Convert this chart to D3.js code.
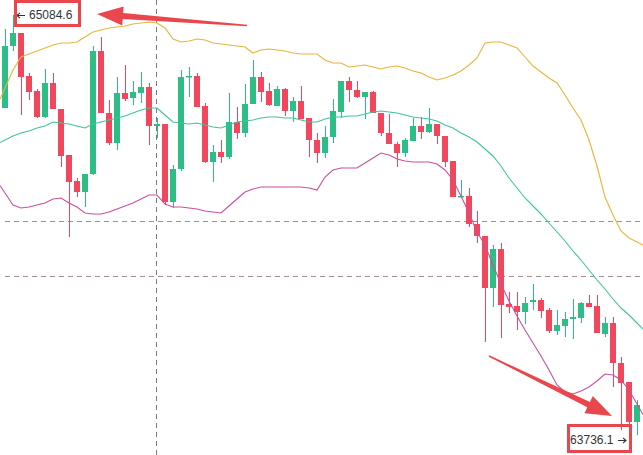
<!DOCTYPE html>
<html><head><meta charset="utf-8">
<script src="https://cdn.jsdelivr.net/npm/d3@7"></script>
<style>html,body{margin:0;padding:0;background:#fff;overflow:hidden}svg{display:block}</style>
</head><body>
<svg id="chart" width="643" height="455"></svg>
<script>
const openP = [64788.1,64985.8,65027.2,64890.1,64842.3,64759.4,64867.8,64784.9,64638.3,64555.4,
64520.3,64577.7,64969.8,64772.2,64676.5,64835.9,64820.0,64835.9,64855.0,64730.7,
64737.1,64488.4,64593.6,64886.9,64890.1,64794.5,64615.9,64647.8,64631.9,64743.5,
64708.4,64800.8,64886.9,64842.3,64794.5,64848.7,64778.5,64810.4,64756.2,64686.1,
64644.6,64695.6,64775.3,64874.2,64845.5,64823.2,64839.1,64772.2,64708.4,64673.3,
64644.6,64682.9,64730.7,64711.6,64737.1,64698.8,64619.1,64504.4,64507.6,64418.3,
64380.0,64214.3,64338.6,64163.2,64156.9,64137.7,64169.6,64176.0,64144.1,64077.2,
64093.1,64115.4,64118.6,64166.4,64156.9,64067.6,64102.7,63975.2,63914.6,63787.1];
const highP = [65040.0,65084.6,65027.2,64899.7,64848.7,64912.4,64899.7,64784.9,64638.3,64564.9,
64577.7,64985.8,65014.4,64813.6,64886.9,64925.2,64874.2,64902.9,64867.8,64756.2,
64737.1,64606.4,64909.2,64918.8,64899.7,64804.0,64670.1,64686.1,64835.9,64791.3,
64864.6,64941.1,64902.9,64867.8,64858.2,64851.9,64823.2,64858.2,64756.2,64708.4,
64730.7,64816.8,64874.2,64886.9,64874.2,64839.1,64842.3,64772.2,64769.0,64679.7,
64692.5,64756.2,64759.4,64788.1,64737.1,64698.8,64619.1,64558.6,64533.1,64459.7,
64380.0,64351.3,64357.7,64201.5,64201.5,64185.6,64227.0,64182.4,64150.5,64144.1,
64137.7,64179.2,64169.6,64191.9,64191.9,64121.8,64121.8,63994.3,63914.6,63857.2];
const lowP = [64788.1,64969.8,64765.8,64813.6,64756.2,64756.2,64784.9,64600.0,64376.8,64504.4,
64472.5,64574.5,64772.2,64670.1,64654.2,64810.4,64797.7,64804.0,64670.1,64692.5,
64478.9,64469.3,64587.3,64823.2,64791.3,64612.8,64552.2,64612.8,64625.5,64689.3,
64695.6,64800.8,64807.2,64794.5,64794.5,64762.6,64743.5,64753.0,64631.9,64612.8,
64628.7,64676.5,64756.2,64807.2,64820.0,64753.0,64772.2,64698.8,64673.3,64600.0,
64631.9,64682.9,64689.3,64708.4,64673.3,64600.0,64504.4,64504.4,64408.7,64357.7,
64042.1,64153.7,64054.9,64134.6,64080.4,64099.5,64144.1,64118.6,64070.8,64064.4,
64058.0,64051.7,64102.7,64153.7,64070.8,64058.0,63898.6,63761.6,63736.1,63745.0];
const closeP = [64985.8,65027.2,64886.9,64839.1,64759.4,64867.8,64784.9,64635.1,64552.2,64520.3,
64577.7,64969.8,64772.2,64676.5,64835.9,64816.8,64839.1,64855.0,64730.7,64737.1,
64488.4,64593.6,64886.9,64890.1,64791.3,64615.9,64647.8,64631.9,64743.5,64708.4,
64800.8,64886.9,64839.1,64797.7,64848.7,64778.5,64810.4,64753.0,64686.1,64644.6,
64695.6,64778.5,64874.2,64845.5,64823.2,64839.1,64772.2,64708.4,64673.3,64644.6,
64686.1,64730.7,64711.6,64737.1,64698.8,64615.9,64504.4,64507.6,64418.3,64380.0,
64214.3,64338.6,64160.1,64153.7,64137.7,64166.4,64176.0,64140.9,64077.2,64096.3,
64115.4,64121.8,64166.4,64153.7,64070.8,64102.7,63975.2,63911.4,63787.1,63841.3];
const bollUpper = [64851.9,64909.2,64950.7,64960.2,64969.8,64979.4,64988.9,64995.3,64995.3,64998.5,
65014.4,65030.4,65036.8,65043.1,65046.3,65049.5,65055.9,65059.1,65062.3,65059.1,
65043.1,65008.1,64998.5,65001.7,65008.1,65004.9,64995.3,64992.1,64988.9,64985.8,
64982.6,64963.4,64973.0,64976.2,64973.0,64969.8,64963.4,64960.2,64960.2,64960.2,
64941.1,64931.6,64931.6,64918.8,64922.0,64925.2,64918.8,64912.4,64918.8,64922.0,
64915.6,64906.1,64899.7,64886.9,64877.4,64883.7,64893.3,64906.1,64925.2,64947.5,
64995.3,64998.5,64998.5,64988.9,64979.4,64950.7,64922.0,64902.9,64883.7,64867.8,
64829.5,64788.1,64749.8,64686.1,64603.2,64504.4,64447.0,64396.0,64373.7,64360.9];
const bollMid = [64686.1,64698.8,64708.4,64714.8,64724.3,64730.7,64743.5,64740.3,64737.1,64730.7,
64724.3,64737.1,64743.5,64749.8,64756.2,64762.6,64772.2,64781.7,64788.1,64788.1,
64765.8,64743.5,64740.3,64737.1,64740.3,64733.9,64727.5,64724.3,64733.9,64743.5,
64746.7,64749.8,64756.2,64759.4,64759.4,64756.2,64756.2,64749.8,64743.5,64743.5,
64753.0,64759.4,64759.4,64762.6,64762.6,64769.0,64775.3,64778.5,64775.3,64772.2,
64765.8,64759.4,64756.2,64753.0,64746.7,64733.9,64724.3,64708.4,64695.6,64679.7,
64657.4,64635.1,64603.2,64564.9,64533.1,64501.2,64475.7,64450.2,64421.5,64392.8,
64364.1,64332.2,64303.5,64271.6,64239.8,64211.1,64179.2,64150.5,64128.2,64102.7];
const bollLower = [64517.1,64478.9,64469.3,64472.5,64478.9,64485.2,64498.0,64501.2,64485.2,64472.5,
64453.4,64450.2,64450.2,64456.5,64466.1,64475.7,64485.2,64498.0,64510.7,64510.7,
64482.0,64472.5,64472.5,64469.3,64466.1,64459.7,64456.5,64453.4,64475.7,64498.0,
64520.3,64529.9,64536.2,64536.2,64536.2,64536.2,64536.2,64536.2,64533.1,64526.7,
64568.1,64590.4,64596.8,64596.8,64596.8,64612.8,64628.7,64644.6,64638.3,64625.5,
64619.1,64615.9,64615.9,64615.9,64609.6,64590.4,64558.6,64507.6,64453.4,64392.8,
64351.3,64287.6,64227.0,64172.8,64125.0,64080.4,64038.9,63997.5,63952.8,63905.0,
63882.7,63876.3,63885.9,63898.6,63917.8,63940.1,63936.9,63921.0,63889.1,63844.4];
const priceLines = [64427.9, 64252.5];
const crossIndex = 19;
const highLabel = "65084.6";
const lowLabel = "63736.1";

const W = 643, H = 455;
const UP = "#2ebd85", DOWN = "#f0475c", ANN = "#e9474d";
const svg = d3.select("#chart");
const idx = d3.range(openP.length);
const x = d3.scaleBand().domain(idx).range([1, 641]).paddingInner(0.25).paddingOuter(0.125);
const bw = x.bandwidth();
const cx = i => x(i) + bw / 2;
const y = d3.scaleLinear().domain([63736.1, 65084.6]).range([438, 15]);

// reference price lines
svg.append("g").selectAll("line").data(priceLines).join("line")
  .attr("x1", 5).attr("x2", W).attr("y1", d => Math.round(y(d)) + 0.5).attr("y2", d => Math.round(y(d)) + 0.5)
  .attr("stroke", "#a88c8c").attr("stroke-width", 1).attr("stroke-dasharray", "5,4");
// crosshair
svg.append("line").attr("x1", Math.floor(cx(crossIndex)) - 0.5).attr("x2", Math.floor(cx(crossIndex)) - 0.5)
  .attr("y1", 0).attr("y2", H).attr("stroke", "#7a7a7a").attr("stroke-width", 1).attr("stroke-dasharray", "5,4");

// candles
const g = svg.append("g");
const col = i => closeP[i] >= openP[i] ? UP : DOWN;
g.selectAll("line.w").data(idx).join("line").attr("class", "w")
  .attr("x1", i => cx(i) + 0.5).attr("x2", i => cx(i) + 0.5)
  .attr("y1", i => y(highP[i])).attr("y2", i => y(lowP[i]))
  .attr("stroke", col).attr("stroke-width", 1);
g.selectAll("rect").data(idx).join("rect")
  .attr("x", i => x(i)).attr("width", bw)
  .attr("y", i => y(Math.max(openP[i], closeP[i])))
  .attr("height", i => Math.max(1.5, Math.abs(y(openP[i]) - y(closeP[i]))))
  .attr("fill", col);

// bollinger bands (continued to the plot edges along the end segments)
function bandPath(arr) {
  const pts = arr.map((d, i) => [cx(i), y(d)]);
  const n = pts.length;
  const ext = (a, b, xe) => [xe, a[1] + (b[1] - a[1]) * (xe - a[0]) / (b[0] - a[0])];
  const full = [ext(pts[0], pts[1], 0), ...pts, ext(pts[n - 2], pts[n - 1], W)];
  return d3.line()(full);
}
[[bollUpper, "#e7b53a"], [bollMid, "#3ec4a2"], [bollLower, "#cc4f9c"]].forEach(([arr, c]) => {
  svg.append("path").attr("d", bandPath(arr)).attr("fill", "none").attr("stroke", c).attr("stroke-width", 1.1);
});

// high / low markers
const hi = d3.maxIndex(highP), lo = d3.minIndex(lowP);
const hx = cx(hi), hy = y(highP[hi]);
const lx = cx(lo), ly = y(lowP[lo]);
const font = "'Liberation Sans', Arial, sans-serif";
function smallArrow(x0, yc, dir) {
  const x1 = x0 + 8 * dir;
  svg.append("path").attr("d", `M${x0},${yc}L${x1},${yc}M${x0 + 3 * dir},${yc - 2.6}L${x0},${yc}L${x0 + 3 * dir},${yc + 2.6}`)
    .attr("stroke", "#333").attr("stroke-width", 1.1).attr("fill", "none");
}
smallArrow(hx + 4, hy + 0.5, 1);
svg.append("text").attr("x", hx + 16).attr("y", hy).attr("dy", "0.35em")
  .attr("font-family", font).attr("font-size", 12).attr("fill", "#333").text(highLabel);
smallArrow(lx - 3, ly + 2.5, -1);
svg.append("text").attr("x", lx - 15.5).attr("y", ly + 2).attr("dy", "0.35em").attr("text-anchor", "end")
  .attr("font-family", font).attr("font-size", 12).attr("fill", "#333").text(lowLabel);

// annotation boxes
svg.append("rect").attr("x", hx + 2.5).attr("y", hy - 13.5).attr("width", 64).attr("height", 24)
  .attr("fill", "none").attr("stroke", ANN).attr("stroke-width", 3);
svg.append("rect").attr("x", lx - 60.5).attr("y", ly - 12.5).attr("width", 62).attr("height", 26)
  .attr("fill", "none").attr("stroke", ANN).attr("stroke-width", 3);

// annotation arrows
function arrow(x1, y1, x2, y2, wT, wS, hW, hL) {
  const L = Math.hypot(x2 - x1, y2 - y1), ux = (x2 - x1) / L, uy = (y2 - y1) / L, nx = -uy, ny = ux;
  const bx = x2 - ux * hL, by = y2 - uy * hL;
  const p = [[x1 + nx * wT / 2, y1 + ny * wT / 2], [bx + nx * wS / 2, by + ny * wS / 2], [bx + nx * hW / 2, by + ny * hW / 2],
    [x2, y2], [bx - nx * hW / 2, by - ny * hW / 2], [bx - nx * wS / 2, by - ny * wS / 2], [x1 - nx * wT / 2, y1 - ny * wT / 2]];
  svg.append("path").attr("d", "M" + p.map(q => q.join(",")).join("L") + "Z").attr("fill", ANN);
}
arrow(hx + 234, hy + 10.5, hx + 84, hy - 1, 1.5, 6, 19, 26);
arrow(lx - 140, ly - 82, lx - 17, ly - 22, 1.5, 6, 19, 26);
</script>
</body></html>
